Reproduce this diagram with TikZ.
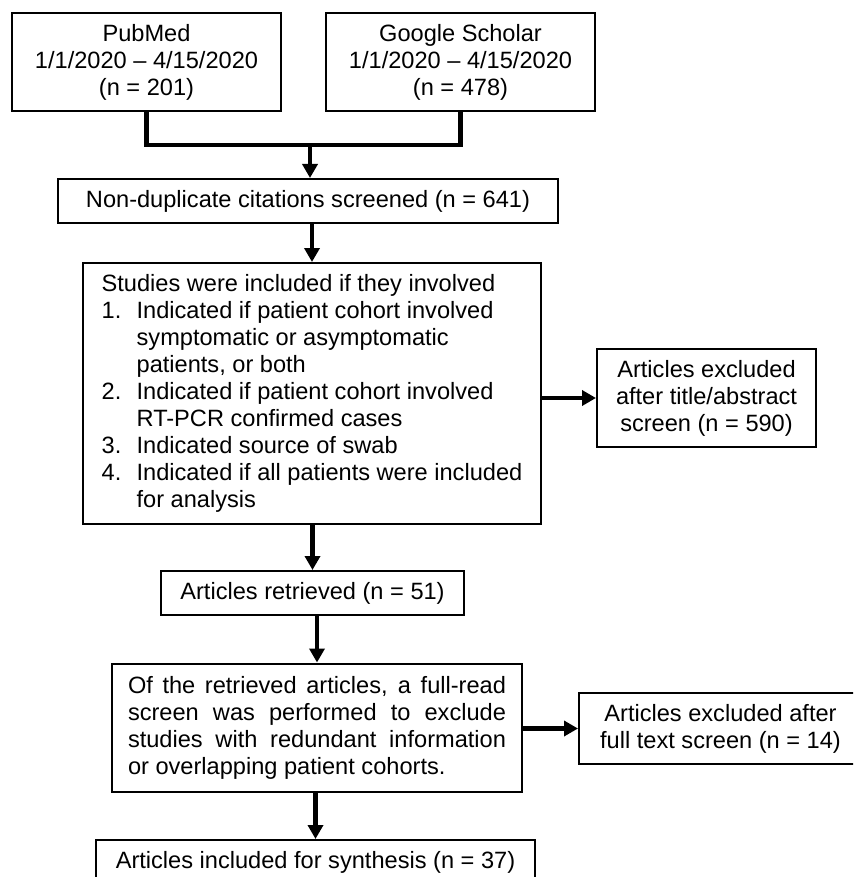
\documentclass[tikz,border=0pt]{standalone}
\usepackage{fontspec}
\setmainfont{Liberation Sans}
\usetikzlibrary{arrows.meta,calc}
\newcommand{\numlabel}[1]{\makebox[35pt][l]{#1}}
\newcommand{\hang}{\hspace*{35pt}}
\newcommand{\spreadline}[1]{\makebox[378pt][s]{#1}}
\tikzset{
    box/.style =    {rectangle,
                    fill=white,
                    draw=black,
                    text=black,
                    line width=2pt,
                    inner sep=0pt,
                    font=\fontsize{23.6}{27}\selectfont},
    source/.style = {box,
                    align=center,
                    minimum width=269pt,
                    minimum height=98pt},
    stage/.style =  {box,
                    align=center,
                    minimum height=44pt},
    excluded/.style = {box,
                    align=center},
    -,
    link/.style =   {draw=black,
                    line width=4.5pt,
                    line join=miter},
    >={Triangle[width=15pt,length=14pt]}}

\begin{document}
\begin{tikzpicture}[x=1pt,y=-1pt]
                \path[use as bounding box,fill=white] (0,0) rectangle (853,877);
                \clip (0,0) rectangle (853,877);
                \node[source]       (pubmed)    at (146.5,62)   {PubMed\\1/1/2020 -- 4/15/2020\\(n = 201)};
                \node[source]       (scholar)   at (460.5,62)   {Google Scholar\\1/1/2020 -- 4/15/2020\\(n = 478)};
                \node[stage,minimum width=500pt]  (screened)  at (308,201)   {Non-duplicate citations screened (n = 641)};
                \node[box,align=left,minimum width=458pt,minimum height=261pt] (studies) at (312,393.5) {Studies were included if they involved\\
                    \numlabel{1.}Indicated if patient cohort involved\\
                    \hang symptomatic or asymptomatic\\
                    \hang patients, or both\\
                    \numlabel{2.}Indicated if patient cohort involved\\
                    \hang RT-PCR confirmed cases\\
                    \numlabel{3.}Indicated source of swab\\
                    \numlabel{4.}Indicated if all patients were included\\
                    \hang for analysis};
                \node[excluded,minimum width=219pt,minimum height=98pt] (excltitle) at (706.5,398) {Articles excluded\\after title/abstract\\screen (n = 590)};
                \node[stage,minimum width=303pt]  (retrieved) at (312.5,593) {Articles retrieved (n = 51)};
                \node[box,align=left,minimum width=410pt,minimum height=128pt] (fullread) at (317,727.5) {\spreadline{Of the retrieved articles, a full-read}\\
                    \spreadline{screen was performed to exclude}\\
                    \spreadline{studies with redundant information}\\
                    or overlapping patient cohorts.};
                \node[excluded,minimum width=283pt,minimum height=71pt] (exclfull) at (720.5,728.5) {Articles excluded after\\full text screen (n = 14)};
                \node[stage,minimum width=439pt]  (included)  at (315.5,862) {Articles included for synthesis (n = 37)};
                % merge of the two searches
                \coordinate (join) at (310,145);
                \draw [link]     (pubmed.south) |- (join) -| (scholar.south);
                \draw [link,->]  (join) -- (join |- screened.north);
                \draw [link,->]  (screened.south -| studies) -- (studies);
                \draw [link,->]  (studies.east |- excltitle) -- (excltitle);
                \draw [link,->]  (studies.south -| retrieved) -- (retrieved);
                \draw [link,->]  (retrieved.south -| fullread) -- (fullread);
                \draw [link,->]  (fullread.east |- exclfull) -- (exclfull);
                \draw [link,->]  (fullread.south -| included) -- (included);
        \end{tikzpicture}
\end{document}
